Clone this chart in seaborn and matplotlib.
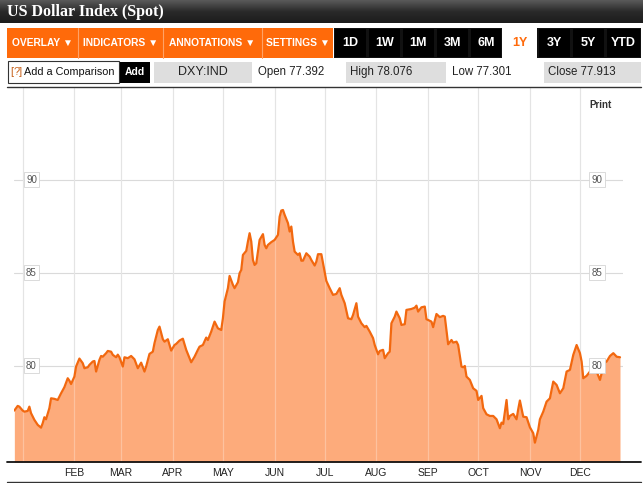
import matplotlib
matplotlib.use("Agg")
import matplotlib.pyplot as plt
import matplotlib.dates as mdates
from matplotlib.patches import Rectangle
from matplotlib.lines import Line2D
from matplotlib.colors import LinearSegmentedColormap
from matplotlib import font_manager
import numpy as np
import pandas as pd
import seaborn as sns

# ---------------- data ----------------
start_date = "2010-01-01"
day_offsets = [-5, -3, -2, 0, 1, 3, 4, 5, 7, 9,
               11, 12, 13, 14, 16, 17, 19, 21, 23, 25,
               27, 28, 29, 31, 32, 34, 36, 37, 39, 40,
               42, 43, 44, 46, 47, 48, 50, 51, 53, 54,
               56, 57, 58, 60, 61, 63, 65, 67, 69, 71,
               73, 74, 76, 78, 79, 81, 82, 84, 85, 87,
               89, 91, 92, 94, 96, 98, 100, 101, 103, 105,
               106, 108, 110, 111, 113, 115, 117, 119, 120, 121,
               123, 124, 126, 127, 129, 130, 131, 132, 134, 135,
               136, 137, 138, 139, 140, 141, 142, 144, 145, 146,
               147, 149, 151, 153, 154, 155, 156, 157, 159, 160,
               161, 162, 163, 165, 166, 167, 168, 170, 172, 173,
               175, 176, 177, 179, 181, 182, 184, 186, 188, 190,
               191, 193, 195, 197, 198, 200, 201, 203, 205, 206,
               208, 210, 211, 213, 214, 216, 217, 219, 220, 221,
               223, 224, 226, 227, 229, 230, 233, 235, 236, 237,
               239, 241, 242, 245, 246, 248, 250, 252, 253, 255,
               257, 258, 260, 261, 263, 264, 265, 266, 268, 270,
               272, 273, 275, 276, 278, 280, 282, 284, 286, 287,
               288, 290, 291, 292, 294, 296, 297, 298, 300, 302,
               304, 306, 307, 309, 310, 312, 314, 316, 318, 320,
               322, 324, 326, 328, 330, 332, 334, 335, 336, 338,
               340, 342, 344, 346, 347, 348, 350, 352, 354, 356,
               358]
index_values = [77.58, 77.83, 77.79, 77.58, 77.52, 77.56, 77.79, 77.44, 77.08, 76.81,
                76.66, 76.90, 77.22, 77.11, 77.71, 78.24, 78.21, 78.15, 78.51, 78.84,
                79.32, 79.19, 79.01, 79.41, 79.95, 80.38, 80.13, 79.86, 79.91, 80.04,
                80.22, 80.25, 79.68, 80.31, 80.52, 80.48, 80.67, 80.79, 80.75, 80.58,
                80.45, 80.59, 80.45, 79.95, 80.45, 80.40, 80.52, 80.34, 79.86, 80.16,
                79.68, 79.95, 80.63, 80.75, 81.21, 81.92, 82.10, 81.42, 81.29, 81.42,
                80.81, 81.11, 81.17, 81.35, 81.45, 80.85, 80.40, 80.18, 80.48, 80.85,
                81.02, 81.11, 81.51, 81.38, 81.83, 82.37, 82.01, 81.92, 82.55, 83.45,
                84.17, 84.83, 84.35, 84.17, 84.49, 84.98, 85.15, 85.96, 86.18, 86.68,
                87.13, 86.68, 85.69, 85.42, 85.51, 86.14, 86.77, 87.08, 86.50, 86.32,
                86.50, 86.65, 86.77, 87.04, 88.02, 88.35, 88.38, 88.12, 87.67, 87.22,
                87.49, 86.68, 86.14, 85.96, 86.05, 85.65, 85.65, 86.05, 85.87, 85.69,
                85.39, 85.60, 86.00, 86.00, 85.05, 84.56, 84.17, 83.81, 83.86, 84.17,
                83.81, 83.36, 82.55, 82.50, 82.73, 83.36, 82.64, 82.28, 82.07, 82.14,
                81.83, 81.48, 81.11, 80.61, 80.79, 80.85, 80.40, 80.67, 80.75, 82.28,
                82.64, 82.91, 82.55, 82.19, 82.23, 83.00, 83.05, 83.12, 83.23, 82.91,
                83.14, 83.18, 82.50, 82.37, 82.07, 82.78, 82.61, 82.68, 82.64, 81.15,
                81.38, 81.24, 81.29, 81.11, 79.95, 79.91, 79.98, 79.41, 79.23, 78.78,
                78.64, 78.15, 78.37, 77.71, 77.38, 77.29, 77.29, 77.11, 76.63, 76.93,
                76.86, 78.15, 77.11, 77.29, 77.40, 77.11, 77.65, 78.12, 77.25, 77.22,
                76.68, 76.36, 75.85, 76.54, 77.11, 77.52, 78.06, 78.24, 79.14, 78.96,
                78.51, 78.78, 79.68, 79.77, 80.58, 81.11, 80.67, 80.22, 79.32, 79.45,
                79.68, 79.86, 79.68, 79.23, 79.59, 80.13, 80.22, 80.52, 80.67, 80.48,
                80.45]
month_labels = ["", "FEB", "MAR", "APR", "MAY", "JUN", "JUL", "AUG", "SEP", "OCT", "NOV", "DEC"]
ytick_values = [80, 85, 90]
y_limits = [74.81, 94.95]

title_text = "US Dollar Index (Spot)"
menu_labels = ["OVERLAY \u25BC", "INDICATORS \u25BC", "ANNOTATIONS \u25BC", "SETTINGS \u25BC"]
range_labels = ["1D", "1W", "1M", "3M", "6M", "1Y", "3Y", "5Y", "YTD"]
active_range = "1Y"
ticker = "DXY:IND"
quote_names = ["Open", "High", "Low", "Close"]
quote_values = ["77.392", "78.076", "77.301", "77.913"]

# ---------------- style ----------------
sns.set_theme(style="white")
names = {f.name for f in font_manager.fontManager.ttflist}
NARROW = "Liberation Sans Narrow" if "Liberation Sans Narrow" in names else "Liberation Sans"
plt.rcParams["font.family"] = ["Liberation Sans", "DejaVu Sans"]

ORANGE = "#FF6A0A"
FILL = "#FDAB7B"
LINE = "#F2680F"

W, H = 643, 483
fig = plt.figure(figsize=(W / 100, H / 100), dpi=100)
fig.patch.set_facecolor("white")

# chrome layer in pixel coordinates
bg = fig.add_axes([0, 0, 1, 1], zorder=0)
bg.set_xlim(0, W)
bg.set_ylim(H, 0)
bg.axis("off")

# title bar gradient
grad = np.linspace(0, 1, 50).reshape(-1, 1)
cmap = LinearSegmentedColormap.from_list("bar", ["#5a5a5a", "#2a2a2a", "#1c1c1c"])
bg.imshow(grad, extent=[0, W, 23, 0], aspect="auto", cmap=cmap, zorder=1)
bg.text(7, 12.5, title_text, color="white", fontsize=11.5, fontweight="bold",
        family=["Liberation Serif", "DejaVu Serif"], va="center", ha="left", zorder=2)

# toolbar: orange menus
menu_edges = [(7, 77.5), (78.5, 162), (163, 261.5), (262.5, 333)]
bg.add_patch(Rectangle((7, 27.5), 326, 30, facecolor=ORANGE, edgecolor="none", zorder=1))
for (x0, x1), lab in zip(menu_edges, menu_labels):
    bg.text((x0 + x1) / 2, 43, lab, color="white", fontsize=7.4, fontweight="bold",
            family=[NARROW, "DejaVu Sans"], ha="center", va="center", zorder=3)
for x0, _ in menu_edges[1:]:
    bg.plot([x0 - 0.5, x0 - 0.5], [27.5, 57.5], color="#FFA266", lw=0.8, zorder=2)

# toolbar: range buttons
range_edges = [(333.5, 367), (368, 401), (402, 435), (436, 469), (470, 502),
               (502, 537), (537.5, 571), (572, 605), (606, 641)]
bg.add_patch(Rectangle((333.5, 27.5), 307.5, 30, facecolor="#111111", edgecolor="none", zorder=1))
for (x0, x1), lab in zip(range_edges, range_labels):
    if lab == active_range:
        bg.add_patch(Rectangle((x0, 27.5), x1 - x0, 30, facecolor="white", edgecolor="none", zorder=2))
        col = ORANGE
    else:
        bg.add_patch(Rectangle((x0 + 1, 28.5), x1 - x0 - 2, 28, facecolor="black", edgecolor="none", zorder=2))
        col = "white"
    bg.text((x0 + x1) / 2, 43, lab, color=col, fontsize=9, fontweight="bold",
            family=[NARROW, "DejaVu Sans"], ha="center", va="center", zorder=3)

# second row
bg.add_patch(Rectangle((7.5, 61), 111, 22, facecolor="white", edgecolor="#333333", lw=0.8, zorder=1))
bg.text(10, 72, "[", color="#C8641E", fontsize=8, va="center", ha="left", zorder=3)
bg.text(13.5, 72, "?", color="#C8641E", fontsize=8, va="center", ha="left", zorder=3)
bg.text(18.5, 72, "]", color="#C8641E", fontsize=8, va="center", ha="left", zorder=3)
bg.text(23.5, 72, "Add a Comparison", color="#111111", fontsize=7.8, va="center", ha="left", zorder=3)
bg.add_patch(Rectangle((120, 61.5), 30, 21.5, facecolor="black", edgecolor="none", zorder=1))
bg.text(135, 72, "Add", color="white", fontsize=7.5, fontweight="bold", va="center", ha="center", zorder=3)
bg.add_patch(Rectangle((153.5, 61.5), 98.5, 21.5, facecolor="#DEDEDE", edgecolor="none", zorder=1))
bg.text(202.5, 72, ticker, color="#222222", fontsize=9, va="center", ha="center", zorder=3)

quote_boxes = [(254, 344, False), (346, 446, True), (448, 542, False), (544, 641, True)]
for (x0, x1, shaded), name, val in zip(quote_boxes, quote_names, quote_values):
    if shaded:
        bg.add_patch(Rectangle((x0, 61.5), x1 - x0, 21.5, facecolor="#DEDEDE", edgecolor="none", zorder=1))
    bg.text(x0 + 4, 72, f"{name} {val}", color="#222222", fontsize=8.3, va="center", ha="left", zorder=3)

# ---------------- chart ----------------
dates = pd.Timestamp(start_date) + pd.to_timedelta(day_offsets, unit="D")
df = pd.DataFrame({"date": dates, "value": index_values})

left_px, right_px, top_px, bottom_px = 14, 623, 88, 462
ax = fig.add_axes([left_px / W, (H - bottom_px) / H, (right_px - left_px) / W, (bottom_px - top_px) / H],
                  zorder=1)
ax.set_facecolor("none")

ax.fill_between(df["date"], df["value"], y_limits[0], color=FILL, lw=0, zorder=2)
sns.lineplot(data=df, x="date", y="value", ax=ax, color=LINE, linewidth=1.6, zorder=4)

ax.set_xlim(df["date"].iloc[0] - pd.Timedelta(hours=5), df["date"].iloc[-1] + pd.Timedelta(days=1.8))
ax.set_ylim(*y_limits)

month_starts = pd.date_range(start_date, periods=len(month_labels), freq="MS")
ax.set_xticks(month_starts)
ax.set_xticklabels(month_labels, family=[NARROW, "DejaVu Sans"], fontsize=7.5, color="#222222")
ax.set_yticks(ytick_values)
ax.set_yticklabels([])
ax.tick_params(axis="both", length=0, pad=4)
ax.set_xlabel("")
ax.set_ylabel("")
ax.grid(True, color="#DADADA", lw=0.8)
ax.set_axisbelow(True)
for sp in ax.spines.values():
    sp.set_visible(False)

# light vertical grid visible through the filled area
for d in month_starts:
    ax.axvline(d, color="white", alpha=0.28, lw=0.9, zorder=3)

# boxed value labels, left and right
for v in ytick_values:
    for xf in (0.0287, 0.957):
        ax.text(xf, v, f"{v}", transform=ax.get_yaxis_transform(), ha="center", va="center",
                fontsize=7, color="#555555", zorder=6,
                bbox=dict(boxstyle="square,pad=0.25", facecolor="white", edgecolor="#D5D5D5", lw=0.6))

bg.text(600, 105, "Print", color="#333333", fontsize=7, fontweight="bold", ha="center", va="center", zorder=3)

# long rules
for y, col, lw in [(87, "#333333", 1.0), (462, "#111111", 1.3), (481.5, "#333333", 1.0)]:
    fig.add_artist(Line2D([7 / W, 641 / W], [(H - y) / H, (H - y) / H], color=col, lw=lw, zorder=5))

fig.savefig("out.png", dpi=100, facecolor="white")
